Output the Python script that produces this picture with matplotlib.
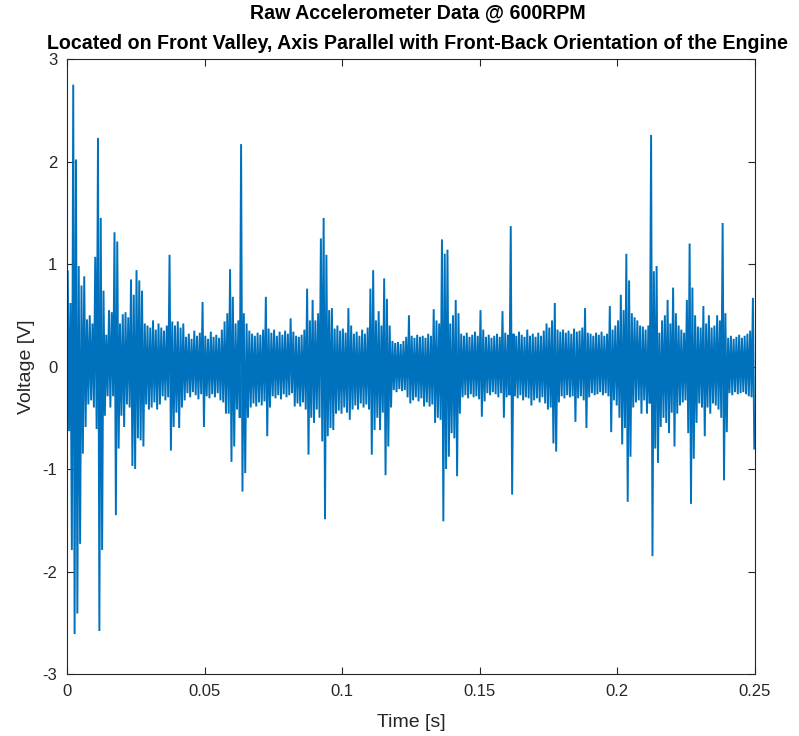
import numpy as np
import matplotlib
matplotlib.use("Agg")
import matplotlib.pyplot as plt
from matplotlib.ticker import FormatStrFormatter

plt.rcParams['font.family'] = ['Liberation Sans', 'DejaVu Sans']
plt.rcParams['axes.unicode_minus'] = False

# envelope of the raw signal, one value per 1 ms bin (0 .. 249 ms)
upper = [
    0.93, 0.62, 2.75, 2.02, 0.98, 0.79, 0.88, 0.46, 0.50, 0.42,
    1.07, 2.23, 1.45, 0.74, 0.31, 0.55, 0.53, 1.31, 1.22, 0.42,
    0.51, 0.53, 0.48, 0.85, 0.70, 0.94, 0.84, 0.74, 0.42, 0.40,
    0.38, 0.45, 0.36, 0.42, 0.38, 0.35, 0.40, 1.09, 0.44, 0.40,
    0.44, 0.38, 0.42, 0.29, 0.32, 0.27, 0.35, 0.30, 0.33, 0.63,
    0.30, 0.27, 0.34, 0.29, 0.31, 0.28, 0.36, 0.44, 0.52, 0.95,
    0.68, 0.42, 0.45, 2.17, 0.52, 0.42, 0.35, 0.32, 0.30, 0.33,
    0.31, 0.36, 0.68, 0.37, 0.33, 0.36, 0.30, 0.34, 0.31, 0.35,
    0.32, 0.47, 0.34, 0.30, 0.29, 0.31, 0.36, 0.76, 0.45, 0.65,
    0.45, 0.52, 1.25, 1.45, 1.09, 0.55, 0.57, 0.37, 0.40, 0.35,
    0.37, 0.33, 0.57, 0.40, 0.32, 0.34, 0.30, 0.36, 0.32, 0.38,
    0.76, 0.94, 0.45, 0.54, 0.40, 0.86, 0.66, 0.40, 0.25, 0.23,
    0.24, 0.22, 0.25, 0.29, 0.50, 0.30, 0.28, 0.31, 0.29, 0.30,
    0.28, 0.32, 0.30, 0.56, 0.45, 0.42, 1.24, 1.10, 1.14, 0.42,
    0.50, 0.65, 0.52, 0.32, 0.30, 0.33, 0.29, 0.31, 0.34, 0.30,
    0.55, 0.36, 0.29, 0.31, 0.28, 0.30, 0.32, 0.29, 0.54, 0.33,
    0.31, 1.37, 0.32, 0.30, 0.34, 0.31, 0.29, 0.36, 0.30, 0.32,
    0.29, 0.33, 0.30, 0.35, 0.42, 0.38, 0.45, 0.62, 0.36, 0.34,
    0.36, 0.33, 0.35, 0.32, 0.37, 0.34, 0.35, 0.38, 0.57, 0.33,
    0.32, 0.30, 0.33, 0.31, 0.34, 0.30, 0.32, 0.59, 0.36, 0.40,
    0.45, 0.70, 0.55, 1.10, 0.84, 0.52, 0.48, 0.45, 0.40, 0.39,
    0.36, 0.40, 2.26, 0.93, 0.98, 0.33, 0.45, 0.50, 0.65, 0.42,
    0.77, 0.52, 0.40, 0.36, 0.33, 0.65, 1.20, 0.77, 0.50, 0.39,
    0.38, 0.59, 0.42, 0.50, 0.38, 0.40, 0.50, 0.45, 1.40, 0.52,
    0.28, 0.30, 0.27, 0.29, 0.31, 0.28, 0.30, 0.32, 0.35, 0.67,
]
lower = [
    -0.63, -1.79, -2.61, -2.41, -1.73, -0.85, -0.59, -0.37, -0.33, -0.40,
    -0.61, -2.58, -1.79, -0.48, -0.29, -0.40, -0.29, -1.45, -0.80, -0.48,
    -0.59, -0.37, -0.40, -0.97, -1.00, -0.70, -0.72, -0.78, -0.37, -0.42,
    -0.40, -0.35, -0.42, -0.37, -0.29, -0.33, -0.30, -0.82, -0.59, -0.45,
    -0.60, -0.40, -0.33, -0.26, -0.30, -0.25, -0.28, -0.32, -0.27, -0.59,
    -0.29, -0.31, -0.27, -0.30, -0.26, -0.33, -0.35, -0.46, -0.46, -0.93,
    -0.78, -0.42, -0.50, -1.22, -1.04, -0.50, -0.40, -0.36, -0.39, -0.35,
    -0.38, -0.34, -0.68, -0.40, -0.29, -0.31, -0.28, -0.32, -0.27, -0.30,
    -0.28, -0.26, -0.39, -0.36, -0.39, -0.35, -0.42, -0.86, -0.50, -0.55,
    -0.42, -0.50, -0.73, -1.49, -0.68, -0.60, -0.62, -0.46, -0.43, -0.46,
    -0.40, -0.45, -0.52, -0.42, -0.38, -0.42, -0.36, -0.40, -0.37, -0.42,
    -0.86, -0.62, -0.50, -0.62, -0.45, -1.06, -0.78, -0.40, -0.23, -0.25,
    -0.22, -0.24, -0.23, -0.30, -0.36, -0.33, -0.30, -0.34, -0.31, -0.39,
    -0.35, -0.39, -0.37, -0.55, -0.50, -0.52, -1.51, -1.00, -0.88, -0.65,
    -0.70, -1.07, -0.46, -0.30, -0.28, -0.31, -0.27, -0.30, -0.29, -0.32,
    -0.49, -0.34, -0.26, -0.28, -0.25, -0.27, -0.30, -0.26, -0.50, -0.30,
    -0.28, -1.25, -0.29, -0.31, -0.28, -0.33, -0.30, -0.31, -0.38, -0.33,
    -0.31, -0.35, -0.30, -0.36, -0.42, -0.40, -0.75, -0.83, -0.35, -0.29,
    -0.31, -0.28, -0.30, -0.29, -0.54, -0.31, -0.29, -0.33, -0.60, -0.30,
    -0.26, -0.28, -0.27, -0.25, -0.28, -0.26, -0.29, -0.64, -0.33, -0.38,
    -0.50, -0.76, -0.60, -1.32, -0.88, -0.40, -0.35, -0.33, -0.46, -0.33,
    -0.46, -0.36, -1.85, -0.80, -0.94, -0.59, -0.50, -0.55, -0.65, -0.45,
    -0.78, -0.46, -0.38, -0.35, -0.33, -0.65, -1.34, -0.90, -0.55, -0.36,
    -0.40, -0.68, -0.40, -0.46, -0.36, -0.38, -0.42, -0.50, -1.11, -0.64,
    -0.26, -0.28, -0.25, -0.27, -0.26, -0.25, -0.27, -0.29, -0.30, -0.80,
]

bin_ms = 1.0
n = len(upper)
t_up = (np.arange(n) + 0.25) * bin_ms / 1000
t_lo = (np.arange(n) + 0.75) * bin_ms / 1000
t = np.column_stack([t_up, t_lo]).ravel()
v = np.column_stack([upper, lower]).ravel()

fig = plt.figure(figsize=(7.99, 7.36), dpi=100)
ax = fig.add_axes([0.0839, 0.0842, 0.8610, 0.8356])
ax.plot(t, v, color='#0072BD', lw=1.4, solid_joinstyle='miter')

ax.set_xlim(0, 0.25)
ax.set_ylim(-3, 3)
ax.set_xticks(np.arange(0, 0.2501, 0.05))
ax.set_yticks(np.arange(-3, 4, 1))
ax.xaxis.set_major_formatter(FormatStrFormatter('%g'))
ax.tick_params(direction='in', top=True, right=True, length=5, width=0.8,
               labelsize=12, colors='#262626', pad=7)
for s in ax.spines.values():
    s.set_color('#262626')
    s.set_linewidth(0.8)

ax.set_xlabel('Time [s]', fontsize=14, color='#262626', labelpad=11)
ax.set_ylabel('Voltage [V]', fontsize=14, color='#262626', labelpad=5)
ax.set_title('Raw Accelerometer Data @ 600RPM\n'
             'Located on Front Valley, Axis Parallel with Front-Back Orientation of the Engine',
             fontsize=14.1, fontweight='bold', color='black', pad=7.5, linespacing=1.75,
             x=0.51)

fig.savefig('out.png', dpi=100)
